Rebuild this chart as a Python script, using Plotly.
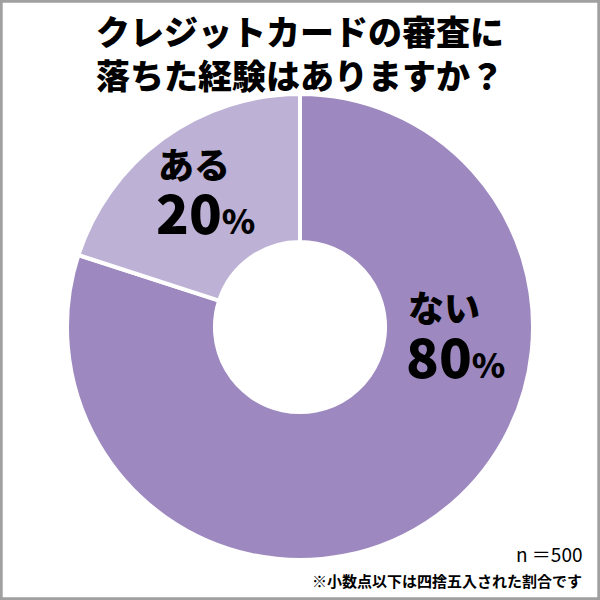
import plotly.graph_objects as go

labels = ["ない", "ある"]
values = [80, 20]
colors = ["#9d89bf", "#bdb1d5"]
title_lines = ["クレジットカードの審査に", "落ちた経験はありますか？"]
n_text = "n ＝500"
note_text = "※小数点以下は四捨五入された割合です"

FONT = "Noto Sans CJK JP"

fig = go.Figure(go.Pie(
    labels=labels, values=values, sort=False, direction="clockwise", rotation=0,
    hole=0.365, marker=dict(colors=colors, line=dict(color="white", width=4)),
    textinfo="none", hoverinfo="label+percent",
    domain=dict(x=[(300-233)/600, (300+233)/600], y=[(600-560)/600, (600-94)/600]),
    showlegend=False,
))

anns = []
anns.append(dict(x=0.5, y=1-52/600, text="<br>".join(title_lines), font=dict(size=34, weight=900)))
# slice labels: (left x, label centre y, number centre y)
pos = {"ない": (406, 306, 354), "ある": (156, 163, 210)}
for lab, val in zip(labels, values):
    x0, y1, y2 = pos[lab]
    anns.append(dict(x=x0/600, y=1-y1/600, xanchor="left", text=lab, font=dict(size=36, weight=900)))
    anns.append(dict(x=(x0-2)/600, y=1-y2/600, xanchor="left",
                     text="%d<span style='font-size:34px'>%%</span>" % val, font=dict(size=54, weight=900)))
anns.append(dict(x=584/600, y=1-553/600, xanchor="right", text=n_text, font=dict(size=19)))
anns.append(dict(x=584/600, y=1-580/600, xanchor="right", text=note_text, font=dict(size=15, weight=700)))
for a in anns:
    a.setdefault("yanchor", "middle")
    a.setdefault("xanchor", "center")
    a.update(xref="paper", yref="paper", showarrow=False)
    a["font"].update(family=FONT, color="black")

fig.update_layout(
    width=600, height=600, margin=dict(l=0, r=0, t=0, b=0),
    paper_bgcolor="white", plot_bgcolor="white",
    annotations=anns,
    shapes=[dict(type="rect", xref="paper", yref="paper", x0=0.002, y0=0.002, x1=0.998, y1=0.998,
                 line=dict(color="#a0a0a0", width=3), fillcolor="rgba(0,0,0,0)")],
)
fig.write_html("out.html", config={"displayModeBar": False},
               post_script="document.body.style.margin='0px';document.body.style.overflow='hidden';")
